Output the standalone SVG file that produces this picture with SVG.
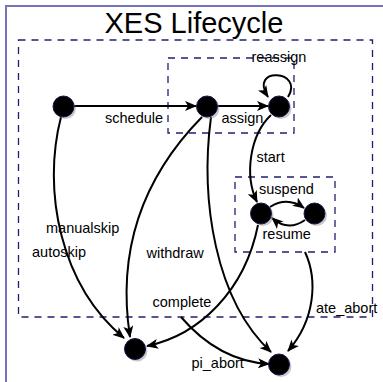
<svg xmlns="http://www.w3.org/2000/svg" width="383" height="382" viewBox="0 0 383 382">
<defs>
<style>
.frame{fill:none;stroke:#7474b8;stroke-width:2}
.grp{fill:none;stroke:#1f1f70;stroke-width:1.3;stroke-dasharray:7 6}
.node{fill:#000;stroke:#14144a;stroke-width:1}
.shadow{fill:#888;opacity:0.45}
.edge{fill:none;stroke:#000;stroke-width:2;marker-end:url(#arr)}
.lbl{font-family:"Liberation Sans",Arial,sans-serif;font-size:14.5px;fill:#000}
.title{font-family:"Liberation Sans",Arial,sans-serif;font-size:29px;fill:#000}
</style>
<marker id="arr" viewBox="0 0 12 10" refX="11" refY="5" markerWidth="12" markerHeight="10" markerUnits="userSpaceOnUse" orient="auto">
<path d="M0,0 L12,5 L0,10 L3,5 Z" fill="#000"/>
</marker>
</defs>
<rect width="383" height="382" fill="#fff"/>
<path class="frame" d="M6,382 V6 H383"/>
<text class="title" x="194" y="33" text-anchor="middle">XES Lifecycle</text>
<rect class="grp" x="18.5" y="40" width="354" height="277"/>
<rect class="grp" x="168" y="58" width="126" height="75"/>
<rect class="grp" x="235" y="177" width="100" height="75"/>
<g id="connectors">
<path class="edge" d="M74,106 L196,106"/>
<path class="edge" d="M218,106 L268,106"/>
<path class="edge" d="M288,97 C305,70 248,66 268,97"/>
<path class="edge" d="M271,115 C250,135 244,175 257,202"/>
<path class="edge" d="M270,207 Q287,196 304,208"/>
<path class="edge" d="M305,220 Q288,232 272,218"/>
<path class="edge" d="M61,117 C42,190 60,285 124,338"/>
<path class="edge" d="M202,117 C150,170 115,240 130,337"/>
<path class="edge" d="M211,117 C200,200 215,300 271,352"/>
<path class="edge" d="M258,225 C245,290 200,335 147,346"/>
<path class="edge" d="M181,317 C205,345 235,362 269,364"/>
<path class="edge" d="M305,252 C318,280 315,320 288,351"/>
</g>
<g id="n_start"><circle class="shadow" cx="65.5" cy="108.5" r="10.5"/><circle class="node" cx="63.5" cy="106.5" r="10.5"/></g>
<g id="n_scheduled"><circle class="shadow" cx="209" cy="108.5" r="10.5"/><circle class="node" cx="207" cy="106.5" r="10.5"/></g>
<g id="n_assigned"><circle class="shadow" cx="281" cy="108.5" r="10.5"/><circle class="node" cx="279" cy="106.5" r="10.5"/></g>
<g id="n_started"><circle class="shadow" cx="263" cy="215.5" r="10.5"/><circle class="node" cx="261" cy="213.5" r="10.5"/></g>
<g id="n_suspended"><circle class="shadow" cx="316.5" cy="215.5" r="10.5"/><circle class="node" cx="314.5" cy="213.5" r="10.5"/></g>
<g id="n_complete"><circle class="shadow" cx="137" cy="351" r="10.5"/><circle class="node" cx="135" cy="349" r="10.5"/></g>
<g id="n_aborted"><circle class="shadow" cx="281" cy="366.5" r="10.5"/><circle class="node" cx="279" cy="364.5" r="10.5"/></g>
<g id="labels">
<text class="lbl" x="105" y="123">schedule</text>
<text class="lbl" x="221.5" y="123">assign</text>
<text class="lbl" x="251.5" y="62">reassign</text>
<text class="lbl" x="256.5" y="161.5">start</text>
<text class="lbl" x="259" y="194">suspend</text>
<text class="lbl" x="262.5" y="238.5">resume</text>
<text class="lbl" x="46" y="232.5">manualskip</text>
<text class="lbl" x="32" y="257">autoskip</text>
<text class="lbl" x="146.5" y="257.5">withdraw</text>
<text class="lbl" x="152.5" y="306.5">complete</text>
<text class="lbl" x="316" y="312.5">ate_abort</text>
<text class="lbl" x="191.5" y="367.5">pi_abort</text>
</g>
</svg>
